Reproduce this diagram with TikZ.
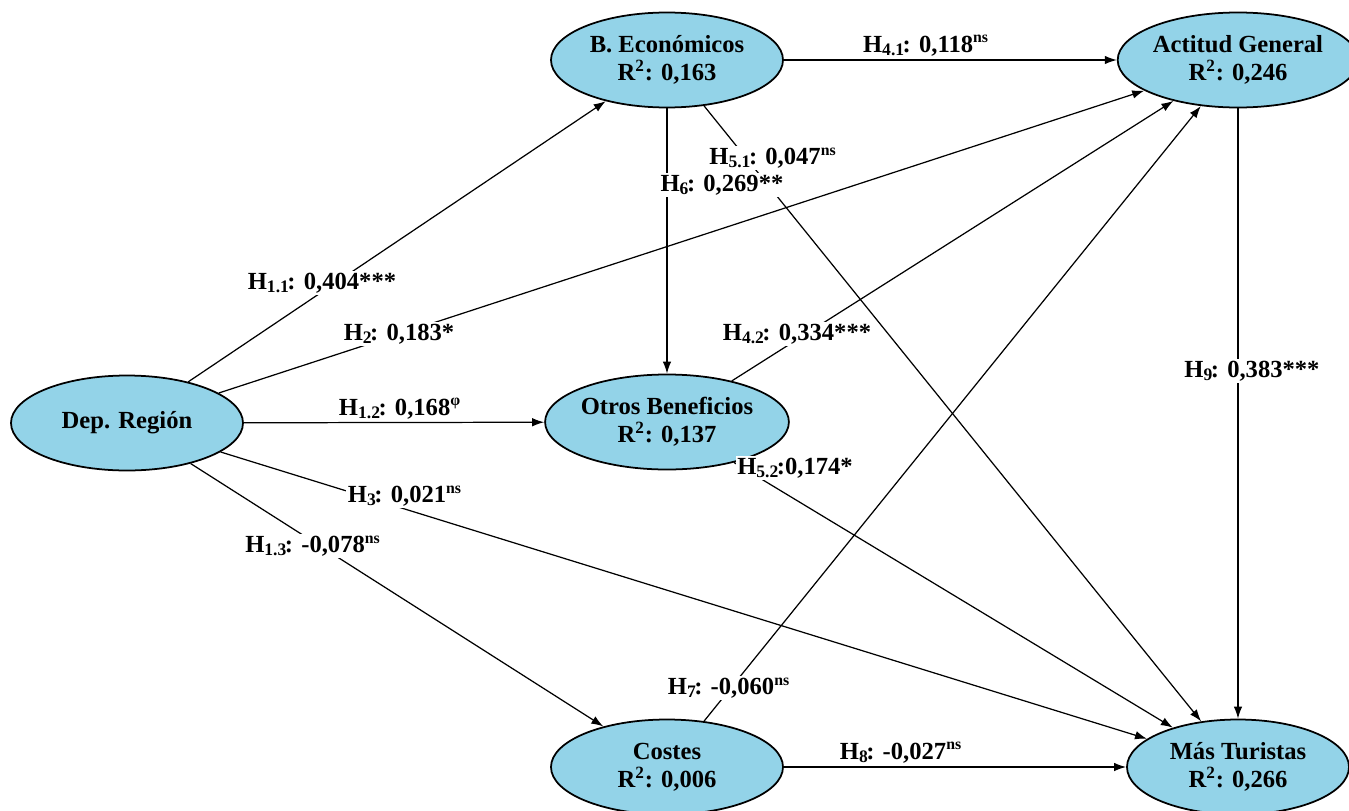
\documentclass[tikz,border=0pt]{standalone}
\usepackage{fontspec}
\setmainfont{Liberation Serif}[BoldFont={Liberation Serif Bold}]
\usetikzlibrary{arrows.meta,shapes.geometric}
\definecolor{latent}{HTML}{93D3E8}
\tikzset{
  construct/.style={ellipse, draw=black, line width=1pt, fill=latent, minimum width=4.64cm, minimum height=1.9cm, inner sep=0pt, align=center, font=\fontsize{14}{16}\selectfont\bfseries},
  path/.style={line width=0.7pt, -{Latex[length=2.4mm,width=1.7mm]}},
  coef/.style={fill=white, inner sep=1pt, font=\fontsize{14}{16}\selectfont\bfseries}
}
\newcommand{\hyp}[1]{H\raisebox{-0.3ex}{\fontsize{10}{11}\selectfont #1}\kern-0.06em}
\newcommand{\sig}[1]{\textsuperscript{\fontsize{9}{10}\selectfont #1}}

\begin{document}
\begin{tikzpicture}
		%%%%% START %%%%%
		\useasboundingbox (0, 0) rectangle (26.98, -16.22);
		
		\node[construct] (region) at (2.54, -8.46) {Dep. Región};
		\node[construct] (econ) at (13.34, -1.2) {B. Económicos\\R\textsuperscript{2}: 0,163};
		\node[construct] (otros) at (13.34, -8.44) {Otros Beneficios\\R\textsuperscript{2}: 0,137};
		\node[construct] (costes) at (13.34, -15.34) {Costes\\R\textsuperscript{2}: 0,006};
		\node[construct, minimum width=4.44cm] (actitud) at (24.76, -1.2) {Actitud General\\R\textsuperscript{2}: 0,246};
		\node[construct, minimum width=4.44cm] (turistas) at (24.76, -15.34) {Más Turistas\\R\textsuperscript{2}: 0,266};
		
		\draw[path] (region) -- (econ);
		\draw[path] (region) -- (actitud);
		\draw[path] (region) -- (otros);
		\draw[path] (region) -- (turistas);
		\draw[path] (region) -- (costes);
		\draw[path] (econ) -- (actitud);
		\draw[path] (econ) -- (otros);
		\draw[path] (econ) -- (turistas);
		\draw[path] (otros) -- (actitud);
		\draw[path] (otros) -- (turistas);
		\draw[path] (costes) -- (actitud);
		\draw[path] (costes) -- (turistas);
		\draw[path] (actitud) -- (turistas);
		
		% labels above the straight paths
		\node[coef, anchor=south] (l41) at (18.52, -1.16) {\hyp{4.1}: 0,118\sig{ns}};
		\node[coef, anchor=south] (l12) at (8.0, -8.42) {\hyp{1.2}: 0,168\sig{φ}};
		\node[coef, anchor=south] (l8) at (18.02, -15.3) {\hyp{8}: -0,027\sig{ns}};
		
		% labels on the slanted paths
		\node[coef] (l51) at (15.46, -3.16) {\hyp{5.1}: 0,047\sig{ns}};
		\node[coef] (l6) at (14.44, -3.7) {\hyp{6}: 0,269**};
		\node[coef] (l11) at (6.44, -5.66) {\hyp{1.1}: 0,404***};
		\node[coef] (l2) at (7.98, -6.68) {\hyp{2}: 0,183*};
		\node[coef] (l42) at (15.94, -6.68) {\hyp{4.2}: 0,334***};
		\node[coef] (l9) at (25.04, -7.42) {\hyp{9}: 0,383***};
		\node[coef] (l52) at (15.9, -9.36) {\hyp{5.2}:0,174*};
		\node[coef] (l3) at (8.1, -9.92) {\hyp{3}: 0,021\sig{ns}};
		\node[coef] (l13) at (6.26, -10.92) {\hyp{1.3}: -0,078\sig{ns}};
		\node[coef] (l7) at (14.58, -13.76) {\hyp{7}: -0,060\sig{ns}};
		%%%%% END %%%%%
\end{tikzpicture}
\end{document}
